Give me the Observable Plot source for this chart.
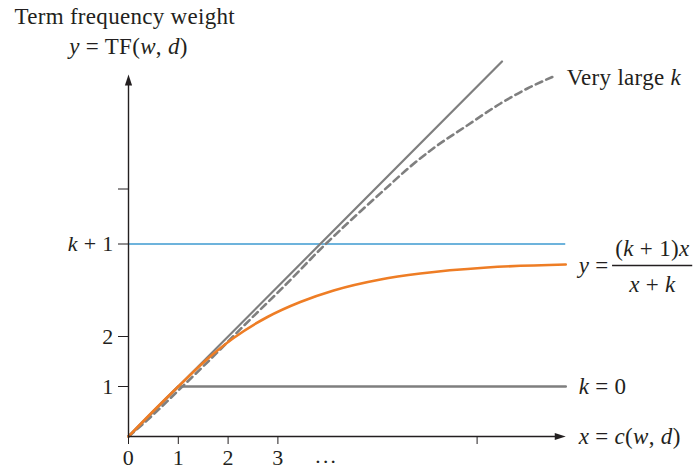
<!DOCTYPE html>
<html>
<head>
<meta charset="utf-8">
<script src="https://cdn.jsdelivr.net/npm/d3@7"></script>
<script src="https://cdn.jsdelivr.net/npm/@observablehq/plot@0.6"></script>
<style>
  html, body { margin: 0; padding: 0; background: #fff; }
  #chart svg { display: block; overflow: visible; }
  #chart svg text { letter-spacing: 0.3px; }
</style>
</head>
<body>
<div id="chart"></div>
<script>
// ---- data ----
const xTicks = [0, 1, 2, 3, 7];
const xTickLabels = ["0", "1", "2", "3", ""];
const yTicks = [1, 2, 3.85, 4.95];
const yTickLabels = ["1", "2", "_k_ + 1", ""];
const kPlusOne = 3.85;
const xEnd = 8.78;
const yEnd = 7.24;

const diagX = [0, 7.5];
const diagY = [0, 7.5];

const flatX = [0, 1, 8.78];
const flatY = [0, 1, 1];

const bm25X = [0, 0.5, 1.0, 1.55, 2.11, 2.79, 3.45, 4.12, 5.06, 5.86, 7.2, 8.78];
const bm25Y = [0, 0.51, 1.0, 1.52, 1.97, 2.39, 2.69, 2.92, 3.14, 3.26, 3.38, 3.44];

const largeX = [0, 0.5, 1.0, 1.6, 2.3, 3.1, 3.96, 4.6, 5.1, 5.66, 6.13, 6.8, 7.47, 8.01, 8.51];
const largeY = [0, 0.44, 0.92, 1.5, 2.2, 2.98, 3.85, 4.45, 4.9, 5.4, 5.77, 6.22, 6.66, 6.96, 7.19];

const titleText = "Term frequency weight";
const yAxisLabel = "_y_ = TF(_w_, _d_)";
const xAxisLabel = "_x_ = _c_(_w_, _d_)";
const largeLabel = "Very large _k_";
const zeroLabel = "_k_ = 0";
const fracLeft = "_y_ =";
const fracNum = "(_k_ + 1)_x_";
const fracDen = "_x_ + _k_";
const ellipsis = "···";

// ---- build ----
const toPts = (xs, ys) => xs.map((x, i) => ({x, y: ys[i]}));
const gray = "#7f7f7f";
const ink = "#231f20";
const font = "Liberation Serif, serif";

const plot = Plot.plot({
  width: 693,
  height: 473,
  marginLeft: 128,
  marginRight: 67,
  marginTop: 36,
  marginBottom: 37,
  x: {domain: [0, 10], axis: null},
  y: {domain: [0, 8], axis: null},
  style: {fontFamily: font, fontSize: "22px", color: ink, background: "white"},
  marks: [
    // reference line k+1
    Plot.ruleY([kPlusOne], {x1: 0, x2: xEnd, stroke: "#3d9ad1", strokeWidth: 1.5}),
    // k = 0
    Plot.line(toPts(flatX, flatY), {x: "x", y: "y", stroke: gray, strokeWidth: 2.6}),
    // y = x
    Plot.line(toPts(diagX, diagY), {x: "x", y: "y", stroke: gray, strokeWidth: 2.2}),
    // very large k
    Plot.line(toPts(largeX, largeY), {x: "x", y: "y", stroke: gray, strokeWidth: 2.6, strokeDasharray: "7,4.5", curve: "monotone-x"}),
    // BM25 curve
    Plot.line(toPts(bm25X, bm25Y), {x: "x", y: "y", stroke: "#ee7d25", strokeWidth: 2.6, curve: "monotone-x"}),
    // axes lines
    Plot.ruleY([0], {x1: 0, x2: xEnd - 0.15, stroke: ink, strokeWidth: 1.4}),
    Plot.ruleX([0], {y1: 0, y2: yEnd - 0.15, stroke: ink, strokeWidth: 1.4}),
    // arrowheads
    Plot.vector([{x: xEnd, y: 0}], {x: "x", y: "y", shape: "spike", anchor: "end", length: 11, r: 3.6, rotate: 90, fill: ink, stroke: "none"}),
    Plot.vector([{x: 0, y: yEnd}], {x: "x", y: "y", shape: "spike", anchor: "end", length: 11, r: 3.6, rotate: 0, fill: ink, stroke: "none"}),
    // ticks
    Plot.axisX({ticks: xTicks, tickFormat: (d) => xTickLabels[xTicks.indexOf(d)], tickSize: 8, tickPadding: 5, stroke: ink, fontSize: 22, anchor: "bottom", label: null}),
    Plot.axisY({ticks: yTicks, tickFormat: (d) => yTickLabels[yTicks.indexOf(d)], tickSize: 10, tickPadding: 5, stroke: ink, fontSize: 22, anchor: "left", label: null}),
    // annotations
    Plot.text([ellipsis], {x: 3.96, y: -0.5, text: (d) => d, fontSize: 22, fill: ink}),
    Plot.text([titleText], {x: -2.29, y: 8.4, text: (d) => d, textAnchor: "start", fontSize: 23, fill: ink}),
    Plot.text([yAxisLabel], {x: 0, y: 7.8, text: (d) => d, fontSize: 23, fill: ink}),
    Plot.text([largeLabel], {x: 8.8, y: 7.18, text: (d) => d, textAnchor: "start", fontSize: 23, fill: ink}),
    Plot.text([zeroLabel], {x: 9.04, y: 1, text: (d) => d, textAnchor: "start", fontSize: 23, fill: ink}),
    Plot.text([xAxisLabel], {x: 9.04, y: 0, text: (d) => d, textAnchor: "start", fontSize: 23, fill: ink}),
    Plot.text([fracLeft], {x: 9.04, y: 3.42, text: (d) => d, textAnchor: "start", fontSize: 23, fill: ink}),
    Plot.text([fracNum], {x: 10.52, y: 3.76, text: (d) => d, fontSize: 23, fill: ink}),
    Plot.text([fracDen], {x: 10.52, y: 3.04, text: (d) => d, fontSize: 23, fill: ink}),
    Plot.ruleY([3.42], {x1: 9.72, x2: 11.33, stroke: ink, strokeWidth: 1.6})
  ]
});

// italic math parts: text between underscores
d3.select(plot).selectAll("text").each(function() {
  const t = this.textContent;
  if (!t.includes("_")) return;
  const parts = t.split("_");
  const sel = d3.select(this);
  sel.text(null);
  parts.forEach((p, i) => {
    if (!p) return;
    const ts = sel.append("tspan").text(p);
    if (i % 2 === 1) ts.attr("font-style", "italic");
  });
});

document.getElementById("chart").appendChild(plot);
</script>
</body>
</html>
